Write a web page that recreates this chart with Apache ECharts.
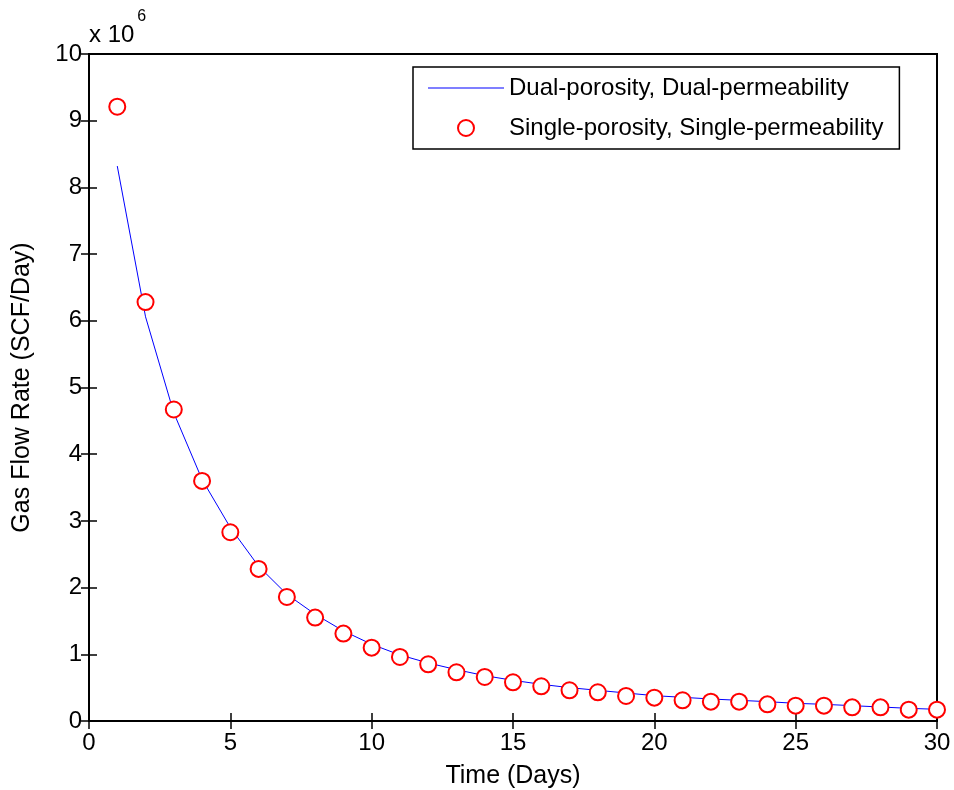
<!DOCTYPE html>
<html>
<head>
<meta charset="utf-8">
<script src="https://cdn.jsdelivr.net/npm/echarts@6/dist/echarts.min.js"></script>
<style>html,body{margin:0;padding:0;background:#fff;}#c{width:954px;height:790px;}</style>
</head>
<body>
<div id="c"></div>
<script>
// Values in units of 10^6 SCF/Day
const days = [1,2,3,4,5,6,7,8,9,10,11,12,13,14,15,16,17,18,19,20,21,22,23,24,25,26,27,28,29,30];
const dualPorosity = [8.32,6.06,4.62,3.62,2.90,2.32,1.90,1.60,1.35,1.15,0.99,0.87,0.77,0.68,0.61,0.55,0.50,0.46,0.42,0.38,0.355,0.33,0.31,0.29,0.265,0.25,0.23,0.21,0.19,0.175];
const singlePorosity = [9.21,6.28,4.67,3.60,2.83,2.28,1.86,1.55,1.31,1.10,0.96,0.85,0.73,0.66,0.58,0.52,0.46,0.43,0.375,0.35,0.31,0.29,0.29,0.25,0.23,0.23,0.205,0.205,0.17,0.17];
const xTicks = [0,5,10,15,20,25,30];
const yTicks = [0,1,2,3,4,5,6,7,8,9,10];
const seriesNames = ['Dual-porosity, Dual-permeability','Single-porosity, Single-permeability'];

const FONT = 'Liberation Sans, Arial, sans-serif';
const chart = echarts.init(document.getElementById('c'));
const axisLine = {show:true, lineStyle:{color:'#000', width:2}};
const tick = {show:true, inside:true, length:8, lineStyle:{color:'#000', width:1.5}};
chart.setOption({
  animation:false,
  backgroundColor:'#fff',
  grid:{left:89, top:54, width:848, height:667, show:true, borderColor:'#000', borderWidth:2, outerBoundsMode:'none', containLabel:false},
  legend:{
    orient:'vertical', left:413, top:67,
    padding:[9,16,9,15],
    itemWidth:76, itemHeight:16, itemGap:16,
    borderColor:'#000', borderWidth:1.5, backgroundColor:'#fff',
    textStyle:{fontFamily:FONT, fontSize:24, color:'#000', lineHeight:24},
    data:[
      {name:seriesNames[0], icon:'path://M0,0 L76,0 L76,1 L0,1 Z', itemStyle:{color:'#0000ff', borderWidth:0}},
      {name:seriesNames[1]}
    ]
  },
  graphic:[{
    type:'text', left:89, top:9,
    style:{
      text:'{a|x 10}{s|6}',
      rich:{
        a:{fontFamily:FONT, fontSize:24, fill:'#000', padding:[14,0,0,0]},
        s:{fontFamily:FONT, fontSize:16, fill:'#000', padding:[0,0,0,3], verticalAlign:'top'}
      }
    }
  }],
  xAxis:[{
    type:'value', min:xTicks[0], max:xTicks[xTicks.length-1], interval:5,
    name:'Time (Days)', nameLocation:'middle', nameGap:43,
    nameTextStyle:{fontFamily:FONT, fontSize:25, color:'#000'},
    axisLine, axisTick:tick, splitLine:{show:false},
    axisLabel:{fontFamily:FONT, fontSize:24, color:'#000', margin:10}
  },{
    type:'value', position:'top', min:0, max:30, interval:5,
    axisLine, axisTick:tick, splitLine:{show:false}, axisLabel:{show:false}
  }],
  yAxis:[{
    type:'value', min:yTicks[0], max:yTicks[yTicks.length-1], interval:1,
    name:'Gas Flow Rate (SCF/Day)', nameLocation:'middle', nameGap:54,
    nameTextStyle:{fontFamily:FONT, fontSize:25, color:'#000'},
    axisLine, axisTick:tick, splitLine:{show:false},
    axisLabel:{fontFamily:FONT, fontSize:24, color:'#000', margin:7}
  },{
    type:'value', position:'right', min:0, max:10, interval:1,
    axisLine, axisTick:tick, splitLine:{show:false}, axisLabel:{show:false}
  }],
  series:[{
    name:seriesNames[0], type:'line', symbol:'none',
    lineStyle:{color:'#0000ff', width:1}, itemStyle:{color:'#0000ff'},
    data:days.map((d,i)=>[d, dualPorosity[i]]), z:3
  },{
    name:seriesNames[1], type:'scatter', symbol:'emptyCircle', symbolSize:16,
    itemStyle:{color:'#ff0000', borderColor:'#ff0000', borderWidth:2, opacity:1},
    data:days.map((d,i)=>[d, singlePorosity[i]]), z:4
  }]
});
</script>
</body>
</html>
